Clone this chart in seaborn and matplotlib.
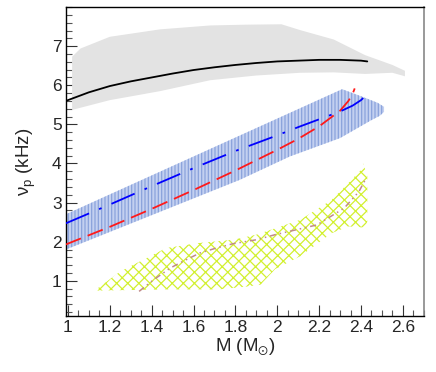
import numpy as np
import pandas as pd
import seaborn as sns
import matplotlib
matplotlib.use('Agg')
import matplotlib.pyplot as plt
from matplotlib.ticker import MultipleLocator

# --- datos ---
# banda gris (contorno superior e inferior)
gris_x_sup = [1.02, 1.06, 1.2, 1.44, 1.68, 1.85, 2.02, 2.11, 2.27, 2.42, 2.55, 2.61]
gris_y_sup = [6.73, 6.94, 7.24, 7.43, 7.53, 7.55, 7.56, 7.41, 7.17, 6.77, 6.52, 6.37]
gris_x_inf = [1.02, 1.2, 1.44, 1.68, 1.9, 2.11, 2.27, 2.42, 2.55, 2.61]
gris_y_inf = [5.37, 5.62, 5.85, 6.13, 6.25, 6.32, 6.33, 6.29, 6.32, 6.23]

# curva negra
negra_x = [0.99, 1.1, 1.2, 1.3, 1.4, 1.5, 1.6, 1.7, 1.8, 1.9, 2.0, 2.1, 2.2, 2.3, 2.4, 2.43]
negra_y = [5.6, 5.82, 5.98, 6.1, 6.2, 6.3, 6.39, 6.46, 6.52, 6.57, 6.61, 6.63, 6.65, 6.65, 6.63, 6.61]

# banda azul (poligono)
azul_x = [0.99, 2.31, 2.40, 2.48, 2.51, 2.51, 2.49, 2.45, 2.30, 2.06, 1.82, 0.99]
azul_y = [2.70, 5.90, 5.72, 5.55, 5.45, 5.32, 5.22, 5.11, 4.65, 4.18, 3.58, 1.80]

# curva roja (trazos)
roja_x = [0.99, 1.2, 1.4, 1.6, 1.8, 2.0, 2.1, 2.2, 2.3, 2.34, 2.36, 2.37]
roja_y = [1.93, 2.38, 2.84, 3.32, 3.82, 4.35, 4.63, 4.95, 5.35, 5.6, 5.78, 5.92]

# curva azul (trazo-punto)
azul_lx = [0.99, 1.2, 1.4, 1.6, 1.8, 2.0, 2.1, 2.2, 2.3, 2.36, 2.4, 2.42, 2.43]
azul_ly = [2.47, 2.95, 3.42, 3.88, 4.32, 4.72, 4.93, 5.13, 5.33, 5.48, 5.62, 5.72, 5.8]

# banda amarilla (poligono)
amar_x = [1.14, 1.25, 1.39, 1.47, 1.63, 1.79, 1.9, 2.11, 2.26, 2.34, 2.40, 2.41, 2.43, 2.43,
          2.42, 2.34, 2.26, 2.11, 1.99, 1.92, 1.85, 1.72, 1.47, 1.14]
amar_y = [0.80, 1.24, 1.62, 1.84, 1.97, 2.05, 2.18, 2.56, 3.07, 3.50, 3.84, 4.0, 3.7, 2.52,
          2.36, 2.39, 2.22, 1.63, 1.30, 0.9, 0.85, 0.78, 0.78, 0.75]

# curva marron (trazo-punto-punto)
marron_x = [1.34, 1.41, 1.49, 1.55, 1.63, 1.71, 1.79, 1.9, 1.99, 2.19, 2.32, 2.39, 2.42]
marron_y = [0.73, 1.03, 1.33, 1.5, 1.71, 1.84, 1.95, 2.05, 2.18, 2.43, 2.86, 3.28, 3.58]

sns.set_style('ticks')
plt.rcParams['font.family'] = ['Liberation Sans', 'DejaVu Sans']
plt.rcParams['mathtext.default'] = 'regular'
plt.rcParams['hatch.linewidth'] = 0.9

fig = plt.figure(figsize=(4.36, 3.72), dpi=100)
ax = fig.add_axes([0.151, 0.1505, 0.821, 0.8305])

# banda gris
ax.fill(gris_x_sup + gris_x_inf[::-1], gris_y_sup + gris_y_inf[::-1],
        color='#e3e3e3', lw=0, zorder=1)

# banda azul con rayado
ax.fill(azul_x, azul_y, facecolor='#c3d0f0', edgecolor='#8aa3dc',
        hatch='|||||', lw=0, zorder=1)

# banda amarilla cuadriculada
ax.fill(amar_x, amar_y, facecolor='none', edgecolor='#d2f030',
        hatch='xxx', lw=0, zorder=1)

# curvas
sns.lineplot(x=negra_x, y=negra_y, ax=ax, color='black', lw=1.3, sort=False, zorder=3)
sns.lineplot(x=roja_x, y=roja_y, ax=ax, color='#ff1a1a', lw=1.3, sort=False, zorder=3)
ax.lines[-1].set_dashes([9, 4])
sns.lineplot(x=azul_lx, y=azul_ly, ax=ax, color='#0000ff', lw=1.3, sort=False, zorder=3)
ax.lines[-1].set_dashes([14, 6, 1.5, 6])
sns.lineplot(x=marron_x, y=marron_y, ax=ax, color='#c08a8a', lw=1.1, sort=False, zorder=3)
ax.lines[-1].set_dashes([4, 2.5, 1, 2.5, 1, 2.5])

ax.set_xlim(0.99, 2.7)
ax.set_ylim(0.1, 8.0)

ax.xaxis.set_minor_locator(MultipleLocator(0.05))
ax.yaxis.set_minor_locator(MultipleLocator(0.2))
ax.set_xticks(np.arange(1.0, 2.61, 0.2))
ax.set_xticklabels(['1', '1.2', '1.4', '1.6', '1.8', '2', '2.2', '2.4', '2.6'])
ax.set_yticks([1, 2, 3, 4, 5, 6, 7])

ax.tick_params(which='major', direction='in', length=8, width=0.8, labelsize=12.5, pad=3,
               color='#333333')
ax.tick_params(which='minor', direction='in', length=4, width=0.8, color='#555555')

for s in ['left', 'bottom', 'top']:
    ax.spines[s].set_color('black')
    ax.spines[s].set_linewidth(1.0)
ax.spines['right'].set_color('#888888')
ax.spines['right'].set_linewidth(1.2)

ax.set_xlabel(r'M (M$_{\odot}$)', fontsize=13.5, labelpad=1)
ax.set_ylabel(r'ν$_{p}$ (kHz)', fontsize=13.5, labelpad=10)

fig.savefig('out.png', dpi=100)
